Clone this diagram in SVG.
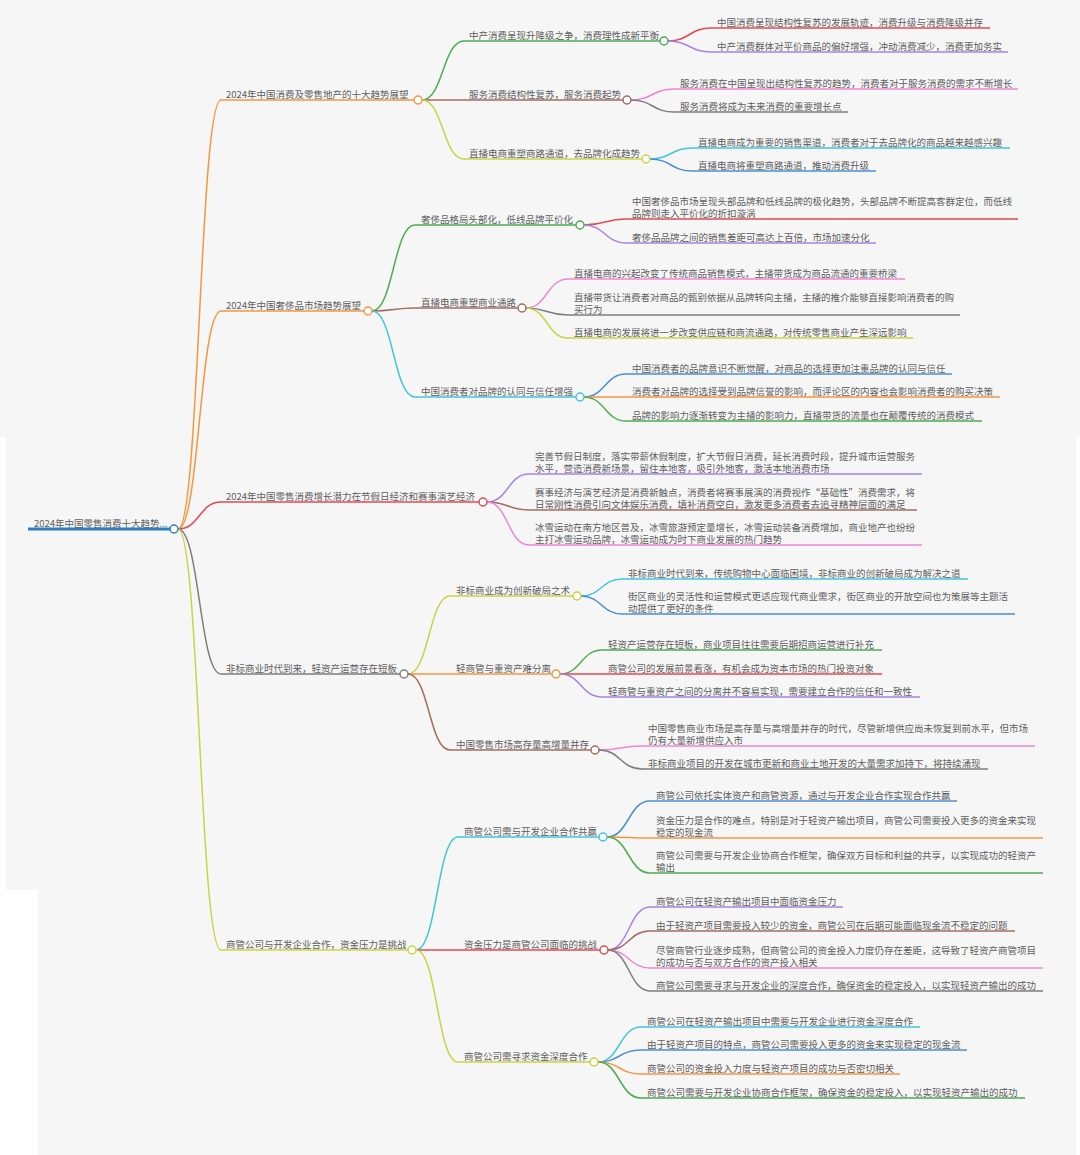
<svg xmlns="http://www.w3.org/2000/svg" width="1080" height="1155" viewBox="0 0 1080 1155">
<style>
.t{font-family:"Noto Sans CJK SC","Noto Sans",sans-serif;font-size:9.5px;fill:#5e5e5e;transform:translateY(1px);}
.c{fill:none;stroke-width:1.5;}
.u{fill:none;stroke-width:1.5;}
.n{fill:#fff;stroke-width:1.5;}
.or{stroke:#f5963f}.rd{stroke:#e5484f}.gy{stroke:#7d7d7d}.yg{stroke:#c8d442}.bl{stroke:#2f7ec4}
.gr{stroke:#4cad4f}.pu{stroke:#a583e6}.pk{stroke:#ef86d3}.cy{stroke:#42c6dc}.br{stroke:#a46b5e}.lb{stroke:#4a8fd4}
</style>
<rect x="0" y="0" width="1080" height="1155" fill="#f6f6f6"/>
<rect x="0" y="437" width="6" height="453" fill="#ffffff"/>
<rect x="0" y="890" width="38" height="265" fill="#ffffff"/>
<rect x="1076" y="437" width="4" height="718" fill="#ffffff"/>

<g id="connectors">
<path class="c or" d="M178,529 C199.5,529 199.5,100 221,100"/>
<path class="c or" d="M178,529 C199.5,529 199.5,311 221,311"/>
<path class="c rd" d="M178,529 C199.5,529 199.5,502 221,502"/>
<path class="c gy" d="M178,529 C199.5,529 199.5,674 221,674"/>
<path class="c yg" d="M178,529 C199.5,529 199.5,950 221,950"/>

<path class="c gr" d="M422,100 C443,100 443,41 464,41"/>
<path class="c br" d="M422,100 L464,100"/>
<path class="c yg" d="M422,100 C443,100 443,159 464,159"/>
<path class="c rd" d="M668,41 C689.5,41 689.5,28 711,28"/>
<path class="c pu" d="M668,41 C689.5,41 689.5,52 711,52"/>
<path class="c pk" d="M631,100 C652.5,100 652.5,89 674,89"/>
<path class="c gy" d="M631,100 C652.5,100 652.5,112 674,112"/>
<path class="c cy" d="M650,159 C671,159 671,148 692,148"/>
<path class="c lb" d="M650,159 C671,159 671,171 692,171"/>

<path class="c gr" d="M372,311 C393.5,311 393.5,225 415,225"/>
<path class="c br" d="M372,311 C393.5,311 393.5,308 415,308"/>
<path class="c cy" d="M372,311 C393.5,311 393.5,397 415,397"/>
<path class="c rd" d="M584,225 C605,225 605,219 626,219"/>
<path class="c pu" d="M584,225 C605,225 605,243 626,243"/>
<path class="c pk" d="M526,308 C547,308 547,279 568,279"/>
<path class="c gy" d="M526,308 C547,308 547,315 568,315"/>
<path class="c yg" d="M526,308 C547,308 547,338 568,338"/>
<path class="c lb" d="M584,397 C605,397 605,374 626,374"/>
<path class="c or" d="M584,397 L626,397"/>
<path class="c gr" d="M584,397 C605,397 605,421 626,421"/>

<path class="c pu" d="M487,502 C508,502 508,474 529,474"/>
<path class="c br" d="M487,502 C508,502 508,510 529,510"/>
<path class="c pk" d="M487,502 C508,502 508,545 529,545"/>

<path class="c yg" d="M408,674 C429,674 429,596 450,596"/>
<path class="c or" d="M408,674 L450,674"/>
<path class="c br" d="M408,674 C429,674 429,750 450,750"/>
<path class="c cy" d="M581,596 C601.5,596 601.5,579 622,579"/>
<path class="c lb" d="M581,596 C601.5,596 601.5,614 622,614"/>
<path class="c gr" d="M560,674 C581,674 581,650 602,650"/>
<path class="c rd" d="M560,674 L602,674"/>
<path class="c pu" d="M560,674 C581,674 581,697 602,697"/>
<path class="c pk" d="M599,750 C620.5,750 620.5,746 642,746"/>
<path class="c gy" d="M599,750 C620.5,750 620.5,769 642,769"/>

<path class="c cy" d="M416,950 C437,950 437,837 458,837"/>
<path class="c rd" d="M416,950 L458,950"/>
<path class="c yg" d="M416,950 C437,950 437,1062 458,1062"/>
<path class="c lb" d="M607,837 C628.5,837 628.5,801 650,801"/>
<path class="c or" d="M607,837 C628.5,837 628.5,838 650,838"/>
<path class="c gr" d="M607,837 C628.5,837 628.5,873 650,873"/>
<path class="c pu" d="M608,950 C629,950 629,907 650,907"/>
<path class="c br" d="M608,950 C629,950 629,931 650,931"/>
<path class="c pk" d="M608,950 C629,950 629,968 650,968"/>
<path class="c gy" d="M608,950 C629,950 629,991 650,991"/>
<path class="c cy" d="M598,1062 C619.5,1062 619.5,1027 641,1027"/>
<path class="c lb" d="M598,1062 C619.5,1062 619.5,1050 641,1050"/>
<path class="c or" d="M598,1062 C619.5,1062 619.5,1074 641,1074"/>
<path class="c gr" d="M598,1062 C619.5,1062 619.5,1098 641,1098"/>
</g>

<g id="root">
<path class="u bl" style="stroke-width:3" d="M28,529 H170"/>
<text class="t" x="34" y="526">2024年中国零售消费十大趋势...</text>
<circle class="n bl" cx="174" cy="529" r="4"/>
</g>

<g id="nA">
<path class="u or" d="M221,100 H414"/>
<text class="t" x="226" y="97">2024年中国消费及零售地产的十大趋势展望</text>
<circle class="n or" cx="418" cy="100" r="4"/>
</g>
<g id="nA1">
<path class="u gr" d="M464,41 H660"/>
<text class="t" x="469" y="38">中产消费呈现升降级之争，消费理性成新平衡</text>
<circle class="n gr" cx="664" cy="41" r="4"/>
</g>
<g id="nA1a"><path class="u rd" d="M711,28 H990"/><text class="t" x="717" y="25">中国消费呈现结构性复苏的发展轨迹，消费升级与消费降级并存</text></g>
<g id="nA1b"><path class="u pu" d="M711,52 H1008"/><text class="t" x="717" y="49">中产消费群体对平价商品的偏好增强，冲动消费减少，消费更加务实</text></g>
<g id="nA2">
<path class="u br" d="M464,100 H623"/>
<text class="t" x="469" y="97">服务消费结构性复苏，服务消费起势</text>
<circle class="n br" cx="627" cy="100" r="4"/>
</g>
<g id="nA2a"><path class="u pk" d="M674,89 H1018"/><text class="t" x="680" y="86">服务消费在中国呈现出结构性复苏的趋势，消费者对于服务消费的需求不断增长</text></g>
<g id="nA2b"><path class="u gy" d="M674,112 H848"/><text class="t" x="680" y="109">服务消费将成为未来消费的重要增长点</text></g>
<g id="nA3">
<path class="u yg" d="M464,159 H642"/>
<text class="t" x="469" y="156">直播电商重塑商路通道，去品牌化成趋势</text>
<circle class="n yg" cx="646" cy="159" r="4"/>
</g>
<g id="nA3a"><path class="u cy" d="M692,148 H1010"/><text class="t" x="698" y="145">直播电商成为重要的销售渠道，消费者对于去品牌化的商品越来越感兴趣</text></g>
<g id="nA3b"><path class="u lb" d="M692,171 H876"/><text class="t" x="698" y="168">直播电商将重塑商路通道，推动消费升级</text></g>

<g id="nB">
<path class="u or" d="M221,311 H364"/>
<text class="t" x="226" y="308">2024年中国奢侈品市场趋势展望</text>
<circle class="n or" cx="368" cy="311" r="4"/>
</g>
<g id="nB1">
<path class="u gr" d="M415,225 H576"/>
<text class="t" x="421" y="222">奢侈品格局头部化，低线品牌平价化</text>
<circle class="n gr" cx="580" cy="225" r="4"/>
</g>
<g id="nB1a"><path class="u rd" d="M626,219 H1018"/><text class="t" x="632" y="204">中国奢侈品市场呈现头部品牌和低线品牌的极化趋势，头部品牌不断提高客群定位，而低线</text><text class="t" x="632" y="216">品牌则走入平价化的折扣漩涡</text></g>
<g id="nB1b"><path class="u pu" d="M626,243 H876"/><text class="t" x="632" y="240">奢侈品品牌之间的销售差距可高达上百倍，市场加速分化</text></g>
<g id="nB2">
<path class="u br" d="M415,308 H518"/>
<text class="t" x="421" y="305">直播电商重塑商业通路</text>
<circle class="n br" cx="522" cy="308" r="4"/>
</g>
<g id="nB2a"><path class="u pk" d="M568,279 H905"/><text class="t" x="574" y="276">直播电商的兴起改变了传统商品销售模式，主播带货成为商品流通的重要桥梁</text></g>
<g id="nB2b"><path class="u gy" d="M568,315 H960"/><text class="t" x="574" y="300">直播带货让消费者对商品的甄别依据从品牌转向主播，主播的推介能够直接影响消费者的购</text><text class="t" x="574" y="312">买行为</text></g>
<g id="nB2c"><path class="u yg" d="M568,338 H913"/><text class="t" x="574" y="335">直播电商的发展将进一步改变供应链和商流通路，对传统零售商业产生深远影响</text></g>
<g id="nB3">
<path class="u cy" d="M415,397 H576"/>
<text class="t" x="421" y="394">中国消费者对品牌的认同与信任增强</text>
<circle class="n cy" cx="580" cy="397" r="4"/>
</g>
<g id="nB3a"><path class="u lb" d="M626,374 H952"/><text class="t" x="632" y="371">中国消费者的品牌意识不断觉醒，对商品的选择更加注重品牌的认同与信任</text></g>
<g id="nB3b"><path class="u or" d="M626,397 H1000"/><text class="t" x="632" y="394">消费者对品牌的选择受到品牌信誉的影响，而评论区的内容也会影响消费者的购买决策</text></g>
<g id="nB3c"><path class="u gr" d="M626,421 H982"/><text class="t" x="632" y="418">品牌的影响力逐渐转变为主播的影响力，直播带货的流量也在颠覆传统的消费模式</text></g>

<g id="nC">
<path class="u rd" d="M221,502 H479"/>
<text class="t" x="226" y="499">2024年中国零售消费增长潜力在节假日经济和赛事演艺经济</text>
<circle class="n rd" cx="483" cy="502" r="4"/>
</g>
<g id="nC1"><path class="u pu" d="M529,474 H922"/><text class="t" x="535" y="459">完善节假日制度，落实带薪休假制度，扩大节假日消费，延长消费时段，提升城市运营服务</text><text class="t" x="535" y="471">水平，营造消费新场景，留住本地客，吸引外地客，激活本地消费市场</text></g>
<g id="nC2"><path class="u br" d="M529,510 H917"/><text class="t" x="535" y="495">赛事经济与演艺经济是消费新触点，消费者将赛事展演的消费视作“基础性”消费需求，将</text><text class="t" x="535" y="507">日常刚性消费引向文体娱乐消费，填补消费空白，激发更多消费者去追寻精神层面的满足</text></g>
<g id="nC3"><path class="u pk" d="M529,545 H922"/><text class="t" x="535" y="530">冰雪运动在南方地区普及，冰雪旅游预定量增长，冰雪运动装备消费增加，商业地产也纷纷</text><text class="t" x="535" y="542">主打冰雪运动品牌，冰雪运动成为时下商业发展的热门趋势</text></g>

<g id="nD">
<path class="u gy" d="M221,674 H400"/>
<text class="t" x="226" y="671">非标商业时代到来，轻资产运营存在短板</text>
<circle class="n gy" cx="404" cy="674" r="4"/>
</g>
<g id="nD1">
<path class="u yg" d="M450,596 H573"/>
<text class="t" x="456" y="593">非标商业成为创新破局之术</text>
<circle class="n yg" cx="577" cy="596" r="4"/>
</g>
<g id="nD1a"><path class="u cy" d="M622,579 H968"/><text class="t" x="628" y="576">非标商业时代到来，传统购物中心面临困境，非标商业的创新破局成为解决之道</text></g>
<g id="nD1b"><path class="u lb" d="M622,614 H1015"/><text class="t" x="628" y="599">街区商业的灵活性和运营模式更适应现代商业需求，街区商业的开放空间也为策展等主题活</text><text class="t" x="628" y="611">动提供了更好的条件</text></g>
<g id="nD2">
<path class="u or" d="M450,674 H552"/>
<text class="t" x="456" y="671">轻商管与重资产难分离</text>
<circle class="n or" cx="556" cy="674" r="4"/>
</g>
<g id="nD2a"><path class="u gr" d="M602,650 H882"/><text class="t" x="608" y="647">轻资产运营存在短板，商业项目往往需要后期招商运营进行补充</text></g>
<g id="nD2b"><path class="u rd" d="M602,674 H882"/><text class="t" x="608" y="671">商管公司的发展前景看涨，有机会成为资本市场的热门投资对象</text></g>
<g id="nD2c"><path class="u pu" d="M602,697 H920"/><text class="t" x="608" y="694">轻商管与重资产之间的分离并不容易实现，需要建立合作的信任和一致性</text></g>
<g id="nD3">
<path class="u br" d="M450,750 H591"/>
<text class="t" x="456" y="747">中国零售市场高存量高增量并存</text>
<circle class="n br" cx="595" cy="750" r="4"/>
</g>
<g id="nD3a"><path class="u pk" d="M642,746 H1035"/><text class="t" x="648" y="731">中国零售商业市场是高存量与高增量并存的时代，尽管新增供应尚未恢复到前水平，但市场</text><text class="t" x="648" y="743">仍有大量新增供应入市</text></g>
<g id="nD3b"><path class="u gy" d="M642,769 H988"/><text class="t" x="648" y="766">非标商业项目的开发在城市更新和商业土地开发的大量需求加持下，将持续涌现</text></g>

<g id="nE">
<path class="u yg" d="M221,950 H408"/>
<text class="t" x="226" y="947">商管公司与开发企业合作，资金压力是挑战</text>
<circle class="n yg" cx="412" cy="950" r="4"/>
</g>
<g id="nE1">
<path class="u cy" d="M458,837 H599"/>
<text class="t" x="464" y="834">商管公司需与开发企业合作共赢</text>
<circle class="n cy" cx="603" cy="837" r="4"/>
</g>
<g id="nE1a"><path class="u lb" d="M650,801 H957"/><text class="t" x="656" y="798">商管公司依托实体资产和商管资源，通过与开发企业合作实现合作共赢</text></g>
<g id="nE1b"><path class="u or" d="M650,838 H1043"/><text class="t" x="656" y="823">资金压力是合作的难点，特别是对于轻资产输出项目，商管公司需要投入更多的资金来实现</text><text class="t" x="656" y="835">稳定的现金流</text></g>
<g id="nE1c"><path class="u gr" d="M650,873 H1043"/><text class="t" x="656" y="858">商管公司需要与开发企业协商合作框架，确保双方目标和利益的共享，以实现成功的轻资产</text><text class="t" x="656" y="870">输出</text></g>
<g id="nE2">
<path class="u rd" d="M458,950 H600"/>
<text class="t" x="464" y="947">资金压力是商管公司面临的挑战</text>
<circle class="n rd" cx="604" cy="950" r="4"/>
</g>
<g id="nE2a"><path class="u pu" d="M650,907 H843"/><text class="t" x="656" y="904">商管公司在轻资产输出项目中面临资金压力</text></g>
<g id="nE2b"><path class="u br" d="M650,931 H1015"/><text class="t" x="656" y="928">由于轻资产项目需要投入较少的资金，商管公司在后期可能面临现金流不稳定的问题</text></g>
<g id="nE2c"><path class="u pk" d="M650,968 H1043"/><text class="t" x="656" y="953">尽管商管行业逐步成熟，但商管公司的资金投入力度仍存在差距，这导致了轻资产商管项目</text><text class="t" x="656" y="965">的成功与否与双方合作的资产投入相关</text></g>
<g id="nE2d"><path class="u gy" d="M650,991 H1043"/><text class="t" x="656" y="988">商管公司需要寻求与开发企业的深度合作，确保资金的稳定投入，以实现轻资产输出的成功</text></g>
<g id="nE3">
<path class="u yg" d="M458,1062 H590"/>
<text class="t" x="464" y="1059">商管公司需寻求资金深度合作</text>
<circle class="n yg" cx="594" cy="1062" r="4"/>
</g>
<g id="nE3a"><path class="u cy" d="M641,1027 H920"/><text class="t" x="647" y="1024">商管公司在轻资产输出项目中需要与开发企业进行资金深度合作</text></g>
<g id="nE3b"><path class="u lb" d="M641,1050 H967"/><text class="t" x="647" y="1047">由于轻资产项目的特点，商管公司需要投入更多的资金来实现稳定的现金流</text></g>
<g id="nE3c"><path class="u or" d="M641,1074 H900"/><text class="t" x="647" y="1071">商管公司的资金投入力度与轻资产项目的成功与否密切相关</text></g>
<g id="nE3d"><path class="u gr" d="M641,1098 H1025"/><text class="t" x="647" y="1095">商管公司需要与开发企业协商合作框架，确保资金的稳定投入，以实现轻资产输出的成功</text></g>
</svg>
